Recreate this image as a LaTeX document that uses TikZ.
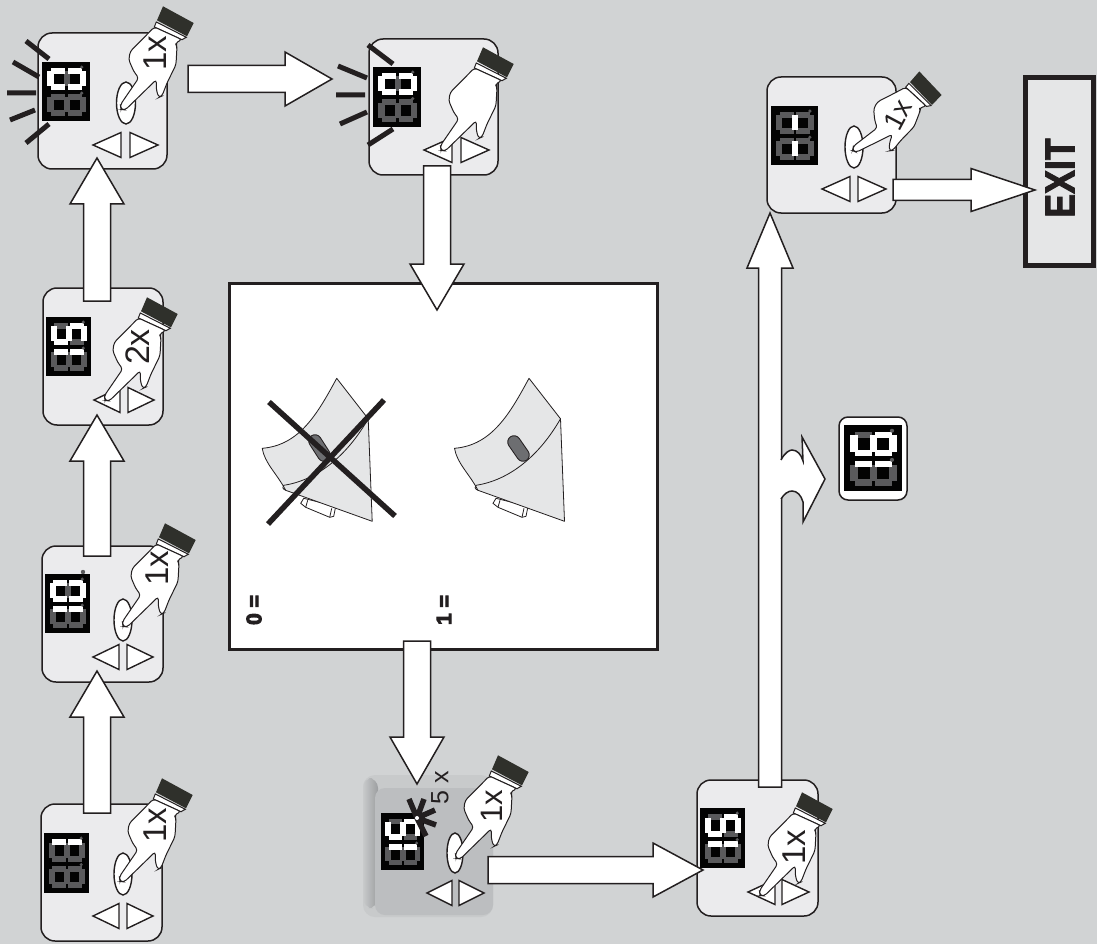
\documentclass[tikz,border=0pt]{standalone}
\usepackage{fontspec}
\usepackage{graphicx}
\setmainfont{Liberation Sans}[BoldFont={Liberation Sans Bold}]
\usetikzlibrary{calc,shadings}
\definecolor{bg}{HTML}{D1D3D4}
\definecolor{ink}{HTML}{231F20}
\definecolor{face}{HTML}{EBEBED}
\definecolor{cuff}{HTML}{2F302B}
\definecolor{dimseg}{HTML}{5A5A5C}
\definecolor{pale}{HTML}{E5E6E7}
\definecolor{slot}{HTML}{6D6E71}
\definecolor{bevelface}{HTML}{BCBEC0}
\definecolor{bevelrim}{HTML}{C8CACB}
\definecolor{beveldark}{HTML}{9C9EA0}
\newcommand{\heavy}[2]{\special{pdf:code 2 Tr #1 w}#2\special{pdf:code 0 Tr}}
\tikzset{
  panel/.style={draw=ink,line width=1.5pt,fill=face,rounded corners=14pt,inner sep=0pt},
  blockarrow/.style={draw=ink,line width=1.5pt,fill=white,line join=miter},
  keytri/.style={draw=ink,line width=1.4pt,fill=white,line join=miter},
  keyoval/.style={draw=ink,line width=1.4pt,fill=white},
  ray/.style={draw=ink,line width=5pt},
  cross/.style={draw=ink,line width=5.5pt},
  fingerhand/.pic={
    \fill[cuff] (40,-100.7) -- (70.7,-84) -- (64,-70.7) -- (34,-86.7) -- cycle;
    \draw[ink,line width=1pt,fill=white] (33.3,-85) -- (63.3,-69.7) -- (59,-67.3) -- (31.3,-80) -- cycle;
    \draw[ink,line width=1pt,fill=white,rounded corners=3pt]
      (31.3,-80) -- (22.3,-70.7) -- (7.3,-55.7) -- (5.7,-47.3) -- (10.7,-35.7) -- (15.7,-29)
      -- (-2.6,-2.3) -- (-2,2.5) -- (2.3,2.9) -- (33.3,-27.3) -- (33.3,-17.3) -- (35.7,-9.5) -- (39,-11)
      -- (44,-24) -- (53,-42.3) -- (54,-60.7) -- (52.3,-64) -- (59,-67.3) -- cycle;
  },
  hingeleaf/.pic={
    \draw[ink,line width=.8pt,fill=white] (-33,120) -- (-36,125) -- (-31,129) -- (-7,139) -- (-3,138) -- (-1,128) -- cycle;
    \draw[ink,line width=.8pt] (-29,122) -- (-31,129) (-5,130) -- (-7,139);
    \draw[ink,line width=.8pt,fill=pale,line join=round]
      (-74.5,70) .. controls (-37,67) and (-19,35) .. (0,0) -- (31.5,40.5) -- (35.5,143) -- (-51,112)
      .. controls (-60,95) and (-72,85) .. (-74.5,70) -- cycle;
    \draw[ink,line width=.8pt] (31.5,40.5) .. controls (10,78) and (-20,102) .. (-53,107) .. controls (-55,108) and (-54,111) .. (-51,112);
  },
}
% block arrow: #1 start, #2 tip, #3 half shaft, #4 half head, #5 head length
\newcommand{\barrow}[5]{%
  \coordinate (neck) at ($(#2)!#5pt!(#1)$);
  \draw[blockarrow] ($(#1)!#3pt!90:(#2)$) -- ($(neck)!#3pt!-90:(#1)$) -- ($(neck)!#4pt!-90:(#1)$) -- (#2)
    -- ($(neck)!#4pt!90:(#1)$) -- ($(neck)!#3pt!90:(#1)$) -- ($(#1)!#3pt!-90:(#2)$) -- cycle;}
% seven-segment pieces in a 48x60 frame
\newcommand{\dseg}[1]{}
\newcommand{\dsegL}[1]{\fill[#1] (5,9.5) rectangle (11.5,24.5);}
\newcommand{\dsegTL}[1]{\fill[#1] (9,6) rectangle (23,12);}
\newcommand{\dsegBL}[1]{\fill[#1] (9,22.5) rectangle (23,28.5);}
\newcommand{\dsegM}[1]{\fill[#1] (21.5,9.5) rectangle (27.5,24.5);}
\newcommand{\dsegTR}[1]{\fill[#1] (26,6) rectangle (40,12);}
\newcommand{\dsegBR}[1]{\fill[#1] (26,22.5) rectangle (40,28.5);}
\newcommand{\dsegR}[1]{\fill[#1] (37.5,9.5) rectangle (44,24.5);}
\newcommand{\onedigit}[1]{%
  \foreach \s in {L,TL,BL,M,TR,BR,R}{\csname dseg\s\endcsname{dimseg}}
  \foreach \s in {#1}{\csname dseg\s\endcsname{white}}
  \fill[dimseg] (39.7,5.2) circle (1.8);}
% #1 x0, #2 y0, #3 x1, #4 y1, #5 upper digit, #6 lower digit
\newcommand{\display}[6]{%
  \fill[black!92!ink] (#1,#2) rectangle (#3,#4);
  \begin{scope}[shift={(#1,#2)},xscale={(#3-#1)/48},yscale={(#4-#2)/60}]
    \onedigit{#5}
    \begin{scope}[yshift=-26.5pt]\onedigit{#6}\end{scope}
  \end{scope}}
\newcommand{\tris}[4]{% tip x, centre y, width, gap
  \draw[keytri] (#1,#2) -- ({#1+#3},{#2-12.5}) -- ({#1+#3},{#2+12.5}) -- cycle;
  \draw[keytri] ({#1+#3+#4},{#2-12.5}) -- ({#1+#3+#4},{#2+12.5}) -- ({#1+2*#3+#4},#2) -- cycle;}
\begin{document}
\begin{tikzpicture}[x=1pt,y=-1pt]
\useasboundingbox (0,0) rectangle (1097,944);
\fill[bg] (0,0) rectangle (1097,944);

% ---------- panels
\node[panel,minimum width=129pt,minimum height=136pt] (p1) at (102.5,101) {};
\node[panel,minimum width=129pt,minimum height=136pt] (p2) at (433.5,107) {};
\node[panel,minimum width=120pt,minimum height=137pt] (p3) at (103,356.5) {};
\node[panel,minimum width=121pt,minimum height=136pt] (p4) at (102.5,614) {};
\node[panel,minimum width=121pt,minimum height=137pt] (p5) at (101.5,872.5) {};
\node[panel,minimum width=121pt,minimum height=136pt] (p7) at (757.5,848) {};
\node[panel,minimum width=129pt,minimum height=136pt] (p8) at (831.5,145) {};

% bevelled panel
\fill[bevelrim,rounded corners=12pt] (363,775) rectangle (493,917);
\shade[left color=bevelrim,right color=beveldark,rounded corners=10pt] (363,778) rectangle (378,908);
\node[fill=bevelface,rounded corners=10pt,inner sep=0pt,minimum width=118pt,minimum height=127pt] (p6) at (434,851.5) {};

% ---------- displays
\display{42}{62}{90}{121}{L,TL,BL,TR,BR,R}{}
\display{373}{67}{421}{127}{L,TL,BL,TR,BR,R}{}
\display{46}{317}{91}{376}{L,BL,M,TR,R}{TL,TR}
\display{45}{574}{90}{633}{L,TL,BL,TR,BR,R}{TL,TR}
\fill[dimseg] (83,572) circle (2.2);
\display{44}{833}{89}{893}{TL,TR}{}
\display{381}{813}{424}{870}{L,BL,M,TR,R}{TL,TR}
\display{700}{808}{745}{868}{L,BL,M,TR,R}{TL,TR}
\display{771}{106}{818}{165}{M}{M}

% ---------- blink rays
\draw[ray] (26,41) -- (49,59) (13,62) -- (39,77) (7,93) -- (36,93) (10,120) -- (35,110) (26,143) -- (49,124);
\draw[ray] (368,45) -- (393,64) (338,66) -- (367,78) (336,95) -- (365,95) (340,124) -- (367,112) (368,145) -- (393,129);

% burst
\draw[ink,line width=5.5pt] (417,818) -- (409,799) (417,818) -- (424,799) (417,818) -- (435,810) (417,818) -- (436,825) (417,818) -- (426,836);
\fill[white] (417,818) circle (2);

% ---------- keys
\draw[keyoval] (126,103) ellipse (9.5 and 21);
\draw[keyoval] (123,620) ellipse (9 and 21);
\draw[keyoval] (123,874) ellipse (9 and 21);
\draw[keyoval] (455,853) ellipse (8 and 20);
\draw[keyoval] (854,147) ellipse (9 and 21);
\tris{93}{145}{28}{9}
\tris{424}{150}{28}{9}
\tris{94}{400}{26}{8}
\tris{93}{657}{26}{8}
\tris{93}{916}{26}{8}
\tris{427}{893}{25}{7}
\tris{748}{892}{27}{7}
\tris{822}{189}{28}{8}

% ---------- hands
\pic at (123,107) {fingerhand};
\pic at (443,148) {fingerhand};
\pic at (107,398) {fingerhand};
\pic at (125,624) {fingerhand};
\pic at (122,879) {fingerhand};
\pic at (458,856) {fingerhand};
\pic at (762,893) {fingerhand};
\pic[rotate=-18,scale=.93] at (855,149) {fingerhand};

% ---------- hand labels
\node[rotate=90,inner sep=0pt,text=ink,font=\fontsize{33}{33}\selectfont] (t1) at (155,53) {1x};
\node[rotate=90,inner sep=0pt,text=ink,font=\fontsize{34}{34}\selectfont] (t3) at (138,347) {2x};
\node[rotate=90,inner sep=0pt,text=ink,font=\fontsize{33}{33}\selectfont] (t4) at (157,568) {1x};
\node[rotate=90,inner sep=0pt,text=ink,font=\fontsize{33}{33}\selectfont] (t5) at (155.5,825) {1x};
\node[rotate=90,inner sep=0pt,text=ink,font=\fontsize{31}{31}\selectfont] (t6) at (492,806) {1x};
\node[rotate=90,inner sep=0pt,text=ink,font=\fontsize{33}{33}\selectfont] (t7) at (794,847) {1x};
\node[rotate=62,inner sep=0pt,text=ink,font=\fontsize{28}{28}\selectfont] (t8) at (898,115) {1x};
\node[rotate=90,inner sep=0pt,text=ink,font=\fontsize{25}{25}\selectfont] (t9) at (440,788) {5 x};

% ---------- central box
\node[draw=ink,line width=3pt,fill=white,inner sep=0pt,minimum width=428pt,minimum height=366pt] (box) at (443.5,466.5) {};
\pic at (336.7,378.3) {hingeleaf};
\draw[draw=ink,line width=13.5pt,line cap=round] (315,441) -- (324,455);
\draw[draw=slot,line width=11.5pt,line cap=round] (315,441) -- (324,455);
\draw[ink,line width=.8pt] (329,458) .. controls (345,445) and (358,432) .. (368.2,418.8);
\pic at (529,378.3) {hingeleaf};
\draw[draw=ink,line width=13.5pt,line cap=round] (514,442) -- (523,455);
\draw[draw=slot,line width=11.5pt,line cap=round] (514,442) -- (523,455);
\draw[cross] (269,402) -- (395,516);
\draw[cross] (384,400) -- (268,524);
\node[rotate=90,inner sep=0pt,font=\bfseries\fontsize{21}{21}\selectfont,text=ink] (zero) at (254,610) {\heavy{1}{0 =}};
\node[rotate=90,inner sep=0pt,font=\bfseries\fontsize{21}{21}\selectfont,text=ink] (one) at (444,610) {\heavy{1}{1 =}};

% ---------- small display
\node[draw=ink,line width=1.5pt,fill=white,rounded corners=9pt,inner sep=0pt,minimum width=68pt,minimum height=83pt] (mini) at (873,458.5) {};
\display{844}{425}{902}{491}{L,BL,BR,M,TR,R}{TL,TR}

% ---------- exit box
\node[draw=ink,line width=5pt,fill=pale,inner sep=0pt,minimum width=68pt,minimum height=188pt] (exit) at (1059.5,171.5) {};
\node[rotate=90,inner sep=0pt,font=\bfseries\fontsize{42}{42}\selectfont,text=ink] (exittext) at (1060,178) {\scalebox{.85}[1]{\heavy{1}{EXIT}}};

% ---------- connectors
\coordinate (a1s) at (188,79);   \coordinate (a1e) at (332,79);
\coordinate (a2s) at (437,166);  \coordinate (a2e) at (437,310);
\coordinate (a3s) at (417,641);  \coordinate (a3e) at (417,784);
\coordinate (a4s) at (488,870);  \coordinate (a4e) at (703,870);
\coordinate (a5s) at (770,787);  \coordinate (a5e) at (770,213);
\coordinate (a6s) at (893,190);  \coordinate (a6e) at (1035,190);
\coordinate (a7s) at (97,813);   \coordinate (a7e) at (97,671);
\coordinate (a8s) at (97,556);   \coordinate (a8e) at (97,415);
\coordinate (a9s) at (97,301);   \coordinate (a9e) at (97,158);
\barrow{a1s}{a1e}{13.5}{27}{47}
\barrow{a2s}{a2e}{13.5}{27}{46}
\barrow{a3s}{a3e}{13.5}{27}{47}
\barrow{a4s}{a4e}{13.5}{27}{50}
\barrow{a5s}{a5e}{11.5}{23}{55}
\barrow{a6s}{a6e}{10.5}{21.5}{64}
\barrow{a7s}{a7e}{13.5}{27}{46}
\barrow{a8s}{a8e}{13.5}{27}{46}
\barrow{a9s}{a9e}{13.5}{27}{46}

% branch off the tall arrow
\fill[white] (778,460) -- (781,460) .. controls (785,452) and (790,450) .. (792,450) .. controls (797,450) and (801,454) .. (803,461)
  -- (802,437) -- (825,479) -- (803,522) -- (803,502) .. controls (801,495) and (797,491) .. (792,491) .. controls (788,491) and (784,494) .. (781,499) -- (778,499) -- cycle;
\draw[ink,line width=1.5pt,line join=miter] (781,460) .. controls (785,452) and (790,450) .. (792,450) .. controls (797,450) and (801,454) .. (803,461)
  -- (802,437) -- (825,479) -- (803,522) -- (803,502) .. controls (801,495) and (797,491) .. (792,491) .. controls (788,491) and (784,494) .. (781,499);
\end{tikzpicture}
\end{document}
